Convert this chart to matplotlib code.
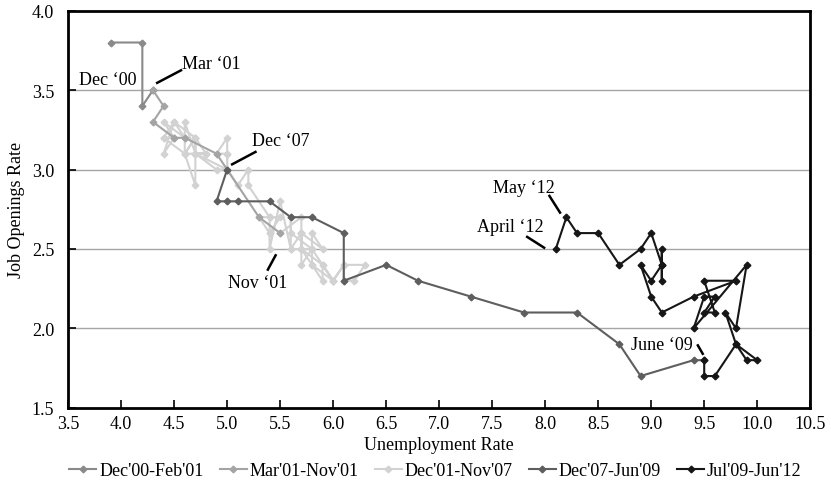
import numpy as np
import matplotlib
matplotlib.use("Agg")
import matplotlib.pyplot as plt

plt.rcParams['font.family'] = ['Liberation Serif', 'DejaVu Serif']

# Beveridge curve: unemployment rate vs job openings rate
dec00_feb01_u = [3.9, 4.2, 4.2, 4.3]
dec00_feb01_j = [3.8, 3.8, 3.4, 3.5]

mar01_nov01_u = [4.3, 4.4, 4.3, 4.5, 4.6, 4.9, 5.0, 5.3, 5.5]
mar01_nov01_j = [3.5, 3.4, 3.3, 3.2, 3.2, 3.1, 3.0, 2.7, 2.6]

dec01_nov07_u = [5.5, 5.7,
                 5.7, 5.7, 5.7, 5.9, 5.8, 5.8, 5.8, 5.7, 5.7, 5.7, 5.9, 6.0,
                 5.8, 5.9, 5.9, 6.0, 6.1, 6.3, 6.2, 6.1, 6.1, 6.0, 5.8, 5.7,
                 5.7, 5.6, 5.8, 5.6, 5.6, 5.6, 5.5, 5.4, 5.4, 5.5, 5.4, 5.4,
                 5.3, 5.4, 5.2, 5.2, 5.1, 5.0, 5.0, 4.9, 5.0, 5.0, 5.0, 4.9,
                 4.7, 4.8, 4.7, 4.7, 4.6, 4.6, 4.7, 4.7, 4.5, 4.4, 4.5, 4.4,
                 4.6, 4.5, 4.4, 4.5, 4.4, 4.6, 4.7, 4.6, 4.7, 4.8, 4.7, 5.0]
dec01_nov07_j = [2.6, 2.7,
                 2.6, 2.5, 2.6, 2.5, 2.6, 2.5, 2.4, 2.5, 2.6, 2.5, 2.4, 2.3,
                 2.4, 2.3, 2.4, 2.3, 2.4, 2.4, 2.3, 2.3, 2.4, 2.3, 2.5, 2.4,
                 2.6, 2.5, 2.5, 2.6, 2.7, 2.5, 2.8, 2.5, 2.6, 2.7, 2.7, 2.6,
                 2.7, 2.7, 2.9, 3.0, 2.9, 3.0, 3.1, 3.1, 3.2, 3.1, 3.0, 3.0,
                 3.1, 3.1, 3.2, 2.9, 3.1, 3.3, 3.1, 3.2, 3.3, 3.2, 3.2, 3.3,
                 3.2, 3.3, 3.1, 3.2, 3.2, 3.1, 3.2, 3.1, 3.1, 3.1, 3.1, 3.0]

dec07_jun09_u = [5.0, 4.9, 5.0, 5.1, 5.4, 5.6, 5.8, 6.1, 6.1, 6.5, 6.8,
                 7.3, 7.8, 8.3, 8.7, 8.9, 9.4, 9.5]
dec07_jun09_j = [3.0, 2.8, 2.8, 2.8, 2.8, 2.7, 2.7, 2.6, 2.3, 2.4, 2.3,
                 2.2, 2.1, 2.1, 1.9, 1.7, 1.8, 1.8]

jul09_jun12_u = [9.5, 9.5, 9.6, 9.8, 10.0, 9.9, 9.8,
                 9.7, 9.8, 9.9, 9.4, 9.5, 9.6, 9.5, 9.6, 9.5, 9.8, 9.4, 9.1,
                 9.0, 8.9, 9.0, 9.1, 9.1, 9.1, 9.1, 9.0, 8.9, 8.7, 8.5, 8.3,
                 8.2, 8.1]
jul09_jun12_j = [1.8, 1.7, 1.7, 1.9, 1.8, 1.8, 1.9,
                 2.1, 2.0, 2.4, 2.0, 2.2, 2.2, 2.1, 2.1, 2.3, 2.3, 2.2, 2.1,
                 2.2, 2.4, 2.3, 2.4, 2.3, 2.5, 2.4, 2.6, 2.5, 2.4, 2.6, 2.6,
                 2.7, 2.5]

series_labels = ["Dec'00-Feb'01", "Mar'01-Nov'01", "Dec'01-Nov'07",
                 "Dec'07-Jun'09", "Jul'09-Jun'12"]
series_colors = ['#8a8a8a', '#a4a4a4', '#d2d2d2', '#5e5e5e', '#161616']

x_ticks = [3.5, 4.0, 4.5, 5.0, 5.5, 6.0, 6.5, 7.0, 7.5, 8.0, 8.5, 9.0, 9.5, 10.0, 10.5]
y_ticks = [1.5, 2.0, 2.5, 3.0, 3.5, 4.0]

fig = plt.figure(figsize=(8.31, 4.89), dpi=100)
ax = fig.add_axes([0.082, 0.164, 0.893, 0.812])

data = [(dec00_feb01_u, dec00_feb01_j), (mar01_nov01_u, mar01_nov01_j),
        (dec01_nov07_u, dec01_nov07_j), (dec07_jun09_u, dec07_jun09_j),
        (jul09_jun12_u, jul09_jun12_j)]
zorders = [4, 4, 3, 5, 6]
for (u, j), lab, col, z in zip(data, series_labels, series_colors, zorders):
    ax.plot(u, j, color=col, lw=1.5, marker='D', ms=3.4, mec=col, mfc=col,
            label=lab, zorder=z)

for yv in [2.0, 2.5, 3.0, 3.5]:
    ax.axhline(yv, color='#a6a6a6', lw=1.0, zorder=1)

ax.set_xlim(3.5, 10.5)
ax.set_ylim(1.5, 4.0)
ax.set_xticks(x_ticks)
ax.set_yticks(y_ticks)
ax.set_xticklabels([f'{v:.1f}' for v in x_ticks])
ax.set_yticklabels([f'{v:.1f}' for v in y_ticks])
ax.tick_params(direction='in', length=6, width=1.2, labelsize=13)
ax.tick_params(axis='x', pad=5)
ax.tick_params(axis='y', pad=10)
for s in ax.spines.values():
    s.set_linewidth(2)

ax.set_xlabel('Unemployment Rate', fontsize=13, labelpad=3)
ax.set_ylabel('Job Openings Rate', fontsize=13, labelpad=5)

# annotations with short leader lines
fs = 13
ax.text(3.87, 3.57, 'Dec \u201800', ha='center', va='center', fontsize=fs)
ax.text(4.57, 3.67, 'Mar \u201801', ha='left', va='center', fontsize=fs)
ax.plot([4.34, 4.565], [3.546, 3.625], color='black', lw=1.8)
ax.text(5.23, 3.18, 'Dec \u201807', ha='left', va='center', fontsize=fs)
ax.plot([5.047, 5.267], [3.033, 3.111], color='black', lw=1.8)
ax.text(5.29, 2.29, 'Nov \u201801', ha='center', va='center', fontsize=fs)
ax.plot([5.384, 5.457], [2.37, 2.46], color='black', lw=1.8)
ax.text(7.80, 2.89, 'May \u201812', ha='center', va='center', fontsize=fs)
ax.plot([8.04, 8.14], [2.834, 2.729], color='black', lw=1.8)
ax.text(7.67, 2.64, 'April \u201812', ha='center', va='center', fontsize=fs)
ax.plot([7.83, 7.99], [2.576, 2.508], color='black', lw=1.8)
ax.text(9.10, 1.90, 'June \u201809', ha='center', va='center', fontsize=fs)
ax.plot([9.44, 9.486], [1.893, 1.84], color='black', lw=1.8)

ax.legend(loc='upper center', bbox_to_anchor=(0.495, -0.118), ncol=5,
          frameon=False, fontsize=13, handlelength=1.5, handletextpad=0.15,
          columnspacing=0.9, borderaxespad=0)

fig.savefig('out.png', dpi=100)
